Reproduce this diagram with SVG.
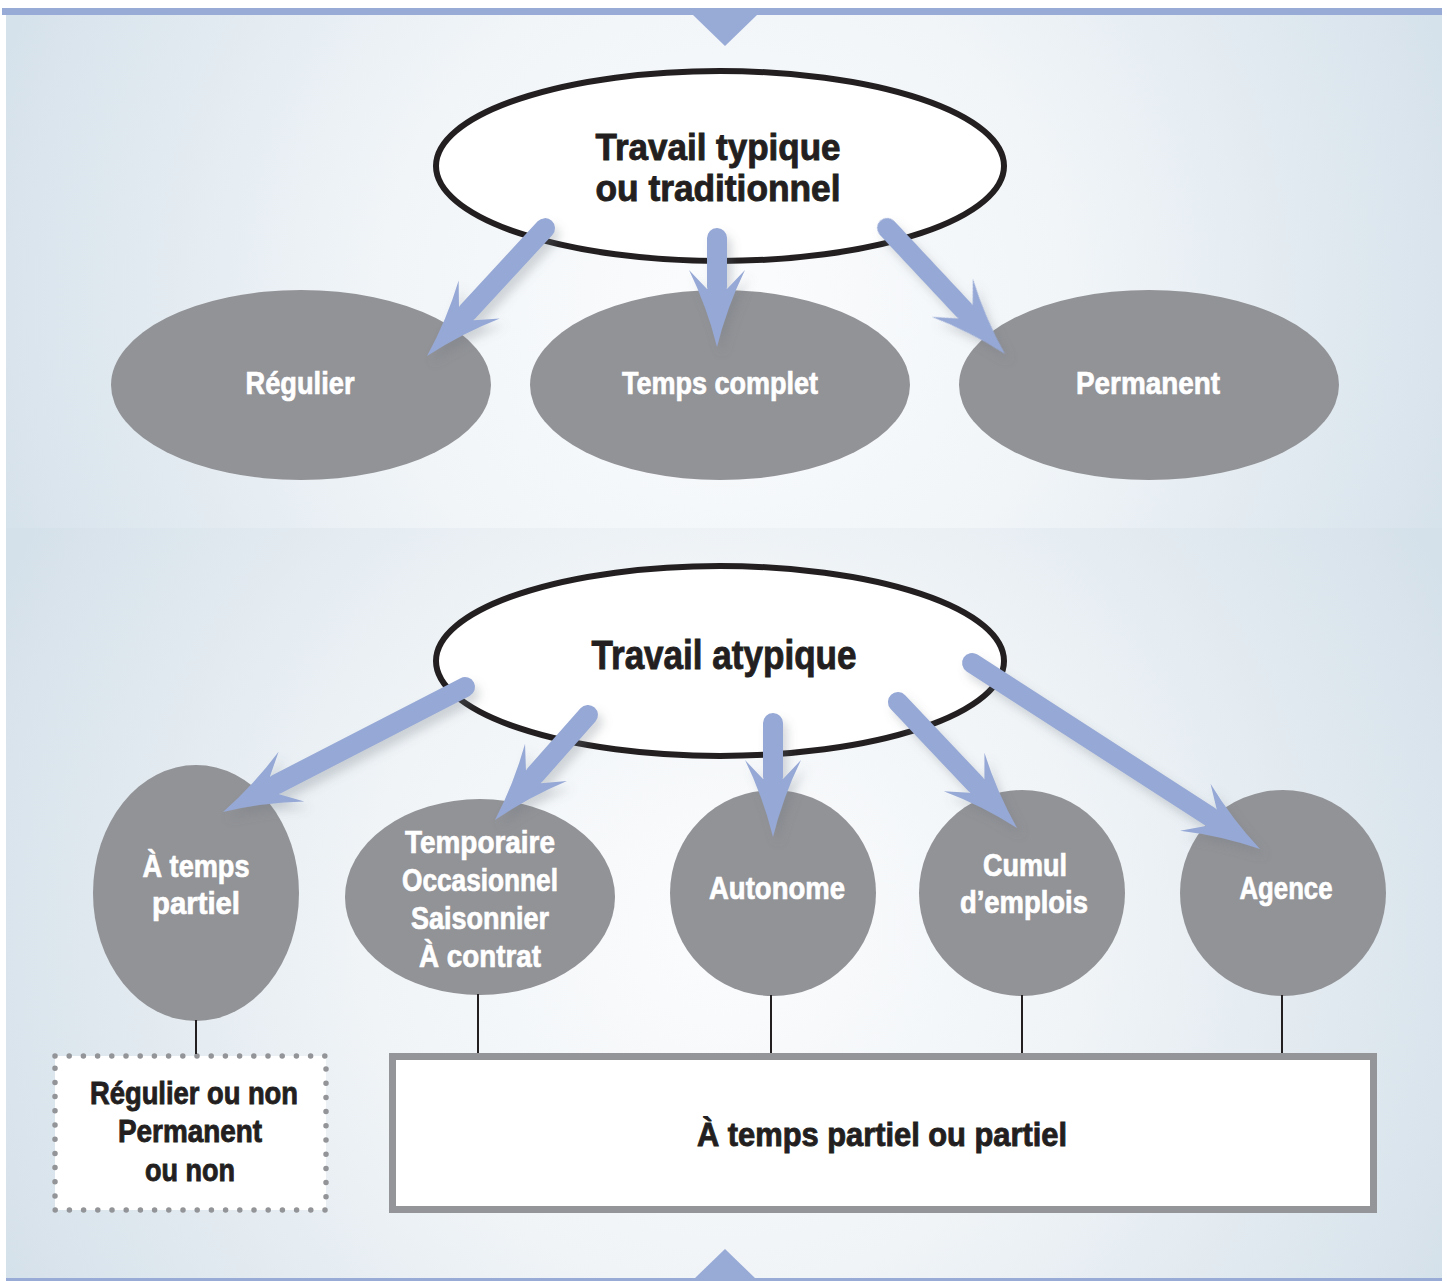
<svg xmlns="http://www.w3.org/2000/svg" width="1447" height="1281" viewBox="0 0 1447 1281">
<defs>
<radialGradient id="bgTop" cx="725" cy="300" r="760" gradientUnits="userSpaceOnUse">
<stop offset="0" stop-color="#fbfcfd"/>
<stop offset="0.45" stop-color="#f1f5f8"/>
<stop offset="1" stop-color="#d6e2eb"/>
</radialGradient>
<radialGradient id="bgBot" cx="725" cy="930" r="800" gradientUnits="userSpaceOnUse">
<stop offset="0" stop-color="#fbfcfd"/>
<stop offset="0.45" stop-color="#f0f4f7"/>
<stop offset="1" stop-color="#d5e1ea"/>
</radialGradient>
<filter id="shadow" x="-20%" y="-20%" width="140%" height="140%">
<feDropShadow dx="5" dy="7" stdDeviation="5" flood-color="#6d7480" flood-opacity="0.28"/>
</filter>
<path id="head" d="M0,0 Q-40,-10 -77,-28 L-58,-10 L-58,10 L-77,28 Q-40,10 0,0 Z"/>
</defs>
<style>
.title{font-family:"Liberation Sans","DejaVu Sans",sans-serif;font-weight:bold;fill:#231f20;stroke:#231f20;stroke-width:0.9;text-anchor:middle}
.lbl{font-family:"Liberation Sans","DejaVu Sans",sans-serif;font-weight:bold;fill:#ffffff;stroke:#ffffff;stroke-width:0.7;text-anchor:middle}
.gray{fill:#929397}
.white{fill:#ffffff;stroke:#231f20;stroke-width:6}
.shaft{stroke:#96a8d5;stroke-width:20;stroke-linecap:round;fill:none}
.hd{fill:#96a8d5}
.vline{stroke:#231f20;stroke-width:2;fill:none}
</style>

<!-- background -->
<rect x="0" y="0" width="1447" height="1281" fill="#ffffff"/>
<rect x="6" y="15" width="1436" height="513" fill="url(#bgTop)"/>
<rect x="6" y="528" width="1436" height="750" fill="url(#bgBot)"/>
<rect x="2" y="8" width="1440" height="7" fill="#98aad6"/>
<polygon points="693,15 757,15 725,46" fill="#98aad6"/>
<rect x="6" y="1278" width="1436" height="3" fill="#98aad6"/>
<polygon points="694,1279 756,1279 725,1249" fill="#98aad6"/>

<!-- top section nodes -->
<g id="node-typique">
<ellipse class="white" cx="720" cy="166" rx="284" ry="95"/>
<text class="title" font-size="36" x="718" y="160" textLength="245" lengthAdjust="spacingAndGlyphs">Travail typique</text>
<text class="title" font-size="36" x="718" y="201" textLength="245" lengthAdjust="spacingAndGlyphs">ou traditionnel</text>
</g>
<g id="node-regulier">
<ellipse class="gray" cx="301" cy="385" rx="190" ry="95"/>
<text class="lbl" font-size="31" x="300" y="394" textLength="109" lengthAdjust="spacingAndGlyphs">Régulier</text>
</g>
<g id="node-temps-complet">
<ellipse class="gray" cx="720" cy="385" rx="190" ry="95"/>
<text class="lbl" font-size="31" x="720" y="394" textLength="196" lengthAdjust="spacingAndGlyphs">Temps complet</text>
</g>
<g id="node-permanent">
<ellipse class="gray" cx="1149" cy="385" rx="190" ry="95"/>
<text class="lbl" font-size="31" x="1148" y="394" textLength="144" lengthAdjust="spacingAndGlyphs">Permanent</text>
</g>

<!-- bottom section nodes -->
<g id="node-atypique">
<ellipse class="white" cx="720" cy="661" rx="284" ry="95"/>
<text class="title" font-size="40" x="724" y="669" textLength="265" lengthAdjust="spacingAndGlyphs">Travail atypique</text>
</g>
<g id="node-temps-partiel">
<ellipse class="gray" cx="196" cy="893" rx="103" ry="128"/>
<text class="lbl" font-size="31" x="196" y="877" textLength="107" lengthAdjust="spacingAndGlyphs">À temps</text>
<text class="lbl" font-size="31" x="196" y="914" textLength="88" lengthAdjust="spacingAndGlyphs">partiel</text>
</g>
<g id="node-temporaire">
<ellipse class="gray" cx="480" cy="897" rx="135" ry="98"/>
<text class="lbl" font-size="31" x="480" y="853" textLength="150" lengthAdjust="spacingAndGlyphs">Temporaire</text>
<text class="lbl" font-size="31" x="480" y="891" textLength="156" lengthAdjust="spacingAndGlyphs">Occasionnel</text>
<text class="lbl" font-size="31" x="480" y="929" textLength="138" lengthAdjust="spacingAndGlyphs">Saisonnier</text>
<text class="lbl" font-size="31" x="480" y="967" textLength="122" lengthAdjust="spacingAndGlyphs">À contrat</text>
</g>
<g id="node-autonome">
<circle class="gray" cx="773" cy="893" r="103"/>
<text class="lbl" font-size="31" x="777" y="899" textLength="136" lengthAdjust="spacingAndGlyphs">Autonome</text>
</g>
<g id="node-cumul">
<circle class="gray" cx="1022" cy="893" r="103"/>
<text class="lbl" font-size="31" x="1025" y="876" textLength="84" lengthAdjust="spacingAndGlyphs">Cumul</text>
<text class="lbl" font-size="31" x="1024" y="913" textLength="128" lengthAdjust="spacingAndGlyphs">d’emplois</text>
</g>
<g id="node-agence">
<circle class="gray" cx="1283" cy="893" r="103"/>
<text class="lbl" font-size="31" x="1286" y="899" textLength="93" lengthAdjust="spacingAndGlyphs">Agence</text>
</g>

<g id="node-regulier-ou-non">
<rect x="55" y="1056" width="271" height="154" fill="#ffffff" stroke="#929497" stroke-width="5.5" stroke-linecap="round" stroke-dasharray="0 14.2"/>
<text class="title" font-size="31" x="194" y="1104" textLength="208" lengthAdjust="spacingAndGlyphs">Régulier ou non</text>
<text class="title" font-size="31" x="190" y="1142" textLength="144" lengthAdjust="spacingAndGlyphs">Permanent</text>
<text class="title" font-size="31" x="190" y="1181" textLength="90" lengthAdjust="spacingAndGlyphs">ou non</text>
</g>

<g id="node-partiel">
<rect x="392.5" y="1056.5" width="981" height="153" fill="#ffffff" stroke="#939598" stroke-width="7"/>
<text class="title" font-size="33" x="882" y="1146" textLength="370" lengthAdjust="spacingAndGlyphs">À temps partiel ou partiel</text>
</g>

<!-- connectors -->
<g id="connectors">
<line class="vline" x1="196" y1="1020" x2="196" y2="1054"/>
<line class="vline" x1="478" y1="994" x2="478" y2="1053"/>
<line class="vline" x1="771" y1="995" x2="771" y2="1053"/>
<line class="vline" x1="1022" y1="995" x2="1022" y2="1053"/>
<line class="vline" x1="1282" y1="995" x2="1282" y2="1053"/>
<g filter="url(#shadow)">
<g transform="translate(427,356) rotate(132.7)"><line class="shaft" x1="-174" y1="0" x2="-60" y2="0"/><use href="#head" class="hd"/></g>
<g transform="translate(717,347) rotate(90)"><line class="shaft" x1="-109" y1="0" x2="-60" y2="0"/><use href="#head" class="hd"/></g>
<g transform="translate(1005,354) rotate(46.9)"><line class="shaft" x1="-172.6" y1="0" x2="-60" y2="0"/><use href="#head" class="hd"/></g>
<g transform="translate(223,812) rotate(152.7)"><line class="shaft" x1="-272.4" y1="0" x2="-60" y2="0"/><use href="#head" class="hd"/></g>
<g transform="translate(495,820) rotate(131.5)"><line class="shaft" x1="-140.3" y1="0" x2="-60" y2="0"/><use href="#head" class="hd"/></g>
<g transform="translate(773,837) rotate(90)"><line class="shaft" x1="-114" y1="0" x2="-60" y2="0"/><use href="#head" class="hd"/></g>
<g transform="translate(1017,828) rotate(46.6)"><line class="shaft" x1="-173.3" y1="0" x2="-60" y2="0"/><use href="#head" class="hd"/></g>
<g transform="translate(1260,849) rotate(32.86)"><line class="shaft" x1="-342.8" y1="0" x2="-60" y2="0"/><use href="#head" class="hd"/></g>
</g>
</g>
</svg>
